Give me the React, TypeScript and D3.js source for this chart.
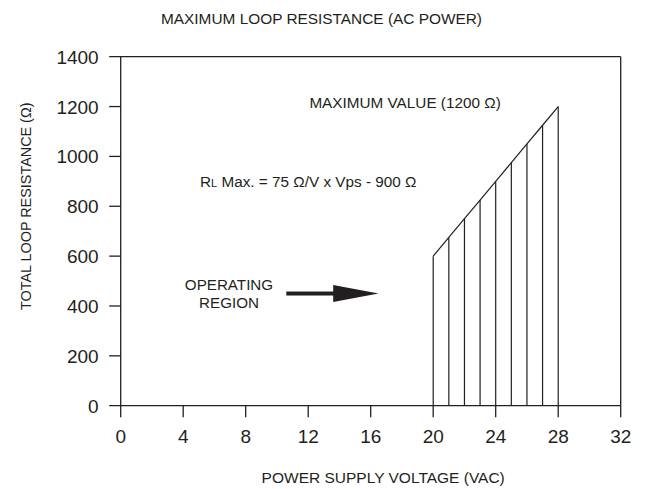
import React from 'react';
import * as d3 from 'd3';

// supply voltage (V) of each hatch line and the max loop resistance there (ohm)
const voltages = [20, 21, 22, 23, 24, 25, 26, 27, 28];
const maxResistance = [600, 675, 750, 825, 900, 975, 1050, 1125, 1200];

const xTicks = [0, 4, 8, 12, 16, 20, 24, 28, 32];
const yTicks = [0, 200, 400, 600, 800, 1000, 1200, 1400];

const title = 'MAXIMUM LOOP RESISTANCE (AC POWER)';
const xTitle = 'POWER SUPPLY VOLTAGE (VAC)';
const yTitle = 'TOTAL LOOP RESISTANCE (\u03A9)';

const W = 649;
const H = 489;
const margin = { top: 56.7, right: 28.3, bottom: 83.3, left: 120.7 };
const font = '"Liberation Sans", Arial, Helvetica, sans-serif';
const ink = '#231f20';

const App: React.FC = () => {
  const x = d3.scaleLinear().domain([0, 32]).range([margin.left, W - margin.right]);
  const y = d3.scaleLinear().domain([0, 1400]).range([H - margin.bottom, margin.top]);

  const x0 = x(0), x1 = x(32), y0 = y(0), y1 = y(1400);

  const edge = d3.line<number>()
    .x((d, i) => x(voltages[i]))
    .y(d => y(d));

  // arrow pointing into the operating region
  const ay = y(450);
  const shaftStart = x(10.6);
  const headBase = x(13.6);
  const tip = x(16.5);

  return (
    <svg width={W} height={H} style={{ position: 'absolute', left: 0, top: 0, background: '#fff' }}
      fontFamily={font} fill={ink}>
      <text x={x(12.85)} y={24} textAnchor="middle" fontSize={15.4}>{title}</text>

      {/* frame */}
      <g stroke={ink} strokeWidth={1.3} fill="none">
        <line x1={x0} x2={x0} y1={y1} y2={y0 + 11.5} />
        <line x1={x1} x2={x1} y1={y1} y2={y0 + 11.5} />
        <line x1={x0 - 11.5} x2={x1} y1={y0} y2={y0} />
        <line x1={x0 - 11.5} x2={x1} y1={y1} y2={y1} />
        {yTicks.slice(1, -1).map(t => (
          <line key={t} x1={x0 - 11.5} x2={x0} y1={y(t)} y2={y(t)} />
        ))}
        {xTicks.slice(1, -1).map(t => (
          <line key={t} x1={x(t)} x2={x(t)} y1={y0} y2={y0 + 11.5} />
        ))}
      </g>

      {yTicks.map(t => (
        <text key={t} x={x0 - 22} y={y(t) + 7} textAnchor="end" fontSize={19}>{t}</text>
      ))}
      {xTicks.map(t => (
        <text key={t} x={x(t)} y={y0 + 37.5} textAnchor="middle" fontSize={19}>{t}</text>
      ))}

      <text x={x(16.8)} y={483} textAnchor="middle" fontSize={15.5}>{xTitle}</text>
      <text transform={`translate(31, ${y(800)}) rotate(-90)`} textAnchor="middle" fontSize={14.4}>{yTitle}</text>

      {/* hatched operating limit */}
      <g stroke={ink} strokeWidth={1.2} fill="none">
        {voltages.map((v, i) => (
          <line key={v} x1={x(v)} x2={x(v)} y1={y0} y2={y(maxResistance[i])} />
        ))}
        <path d={edge(maxResistance) ?? ''} />
      </g>

      <text x={x(18.2)} y={108} textAnchor="middle" fontSize={15.3}>MAXIMUM VALUE (1200 {'\u03A9'})</text>
      <text x={200} y={187} fontSize={15.3}>
        R<tspan fontSize={11}>L</tspan> Max. = 75 {'\u03A9'}/V x Vps - 900 {'\u03A9'}
      </text>

      <text x={229} y={290} textAnchor="middle" fontSize={15.2}>OPERATING</text>
      <text x={229} y={308} textAnchor="middle" fontSize={15.2}>REGION</text>

      <rect x={shaftStart} y={ay - 2} width={headBase - shaftStart + 2} height={4} />
      <path d={`M${headBase},${ay - 8.5} L${tip},${ay} L${headBase},${ay + 8.5} Z`} />
    </svg>
  );
};

export default App;
